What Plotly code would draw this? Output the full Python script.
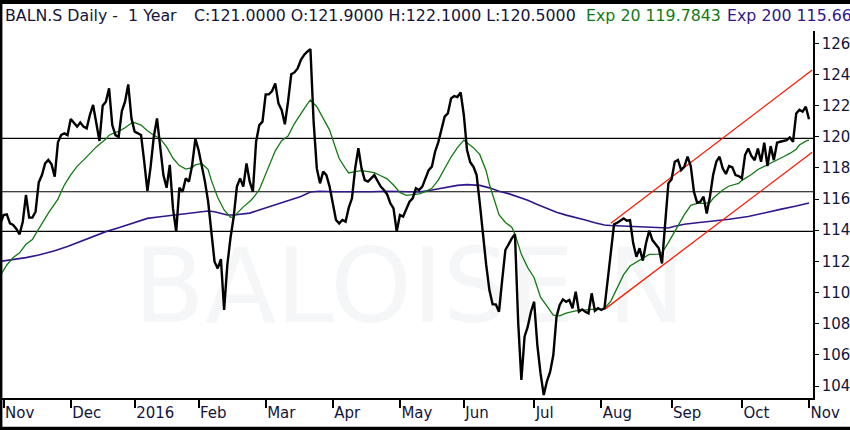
import pandas as pd
import plotly.graph_objects as go

# SIX exchange holidays in the window (no trading, removed from the axis)
holidays = ["2015-12-24", "2015-12-25", "2015-12-31", "2016-01-01", "2016-03-25",
            "2016-03-28", "2016-05-05", "2016-05-16", "2016-08-01"]

days = pd.bdate_range("2015-10-30", "2016-11-02")
days = days[~days.isin(pd.to_datetime(holidays))]

# daily close, one value per trading day starting 2015-10-30
close = [
    114.44, 114.98, 115.02, 114.44, 114.34, 114.08, 113.74, 114.55, 116.26, 114.81,
    114.81, 115.19, 117.07, 117.54, 118.29, 118.51, 118.23, 117.44, 119.64, 120.11,
    120.22, 120.11, 121.14, 120.92, 120.65, 120.92, 120.65, 120.54, 121.40, 122.04,
    120.92, 119.73, 122.00, 122.25, 123.11, 120.75, 120.11, 120.00, 121.65, 122.25,
    123.36, 121.18, 120.33, 120.20, 120.11, 118.40, 116.52, 118.08, 120.00, 121.18,
    119.47, 117.54, 116.73, 118.19, 115.40, 113.91, 116.73, 116.47, 117.33, 117.12,
    118.19, 119.86, 119.15, 118.19, 117.12, 115.83, 113.91, 111.98, 111.55, 112.15,
    108.88, 111.77, 113.52, 114.87, 116.80, 117.33, 116.80, 118.29, 117.12, 116.47,
    119.68, 120.75, 120.97, 122.72, 122.72, 122.94, 123.43, 122.14, 121.72, 120.80,
    122.25, 124.01, 124.13, 124.39, 124.93, 125.25, 125.46, 125.63, 120.97, 117.97,
    117.01, 117.76, 117.54, 116.80, 115.73, 114.66, 114.44, 114.66, 114.55, 115.45,
    116.05, 117.97, 119.26, 117.97, 117.22, 117.12, 117.33, 117.54, 117.16, 116.80,
    116.58, 116.30, 115.73, 115.40, 113.91, 114.98, 114.87, 115.36, 115.83, 116.05,
    116.69, 116.58, 116.80, 117.33, 117.86, 118.08, 119.04, 119.64, 120.54, 121.29,
    121.50, 122.46, 122.61, 122.55, 122.85, 121.40, 119.15, 118.36, 118.08, 117.54,
    115.73, 113.69, 111.77, 110.16, 109.24, 109.24, 108.77, 110.80, 112.73, 113.09,
    113.48, 113.74, 108.13, 104.39, 107.17, 107.81, 108.77, 109.41, 106.63, 104.81,
    103.42, 104.30, 104.90, 105.99, 108.45, 109.20, 109.56, 109.41, 109.52, 108.99,
    110.06, 108.77, 108.92, 108.77, 108.66, 109.95, 108.83, 108.99, 108.88, 108.99,
    110.80, 112.51, 114.38, 114.48, 114.61, 114.76, 114.61, 114.65, 113.16, 112.30,
    112.84, 112.05, 113.16, 113.97, 113.37, 113.11, 112.84, 111.87, 114.55, 117.01,
    117.27, 118.40, 118.51, 117.86, 118.08, 118.72, 118.12, 116.47, 115.77, 115.83,
    116.15, 115.08, 116.15, 117.54, 118.40, 118.72, 117.97, 117.61, 118.12, 118.04,
    117.54, 117.48, 117.33, 118.83, 119.25, 118.76, 118.50, 119.25, 118.40, 119.62,
    118.12, 119.40, 118.50, 119.62, 119.68, 119.75, 119.79, 119.96, 119.68, 121.50,
    121.73, 121.61, 121.93, 121.12,
]

# Exp 20 moving average, read at trading-day positions
ema20_day = [0, 2, 4, 6, 8, 10, 11, 13, 15, 18, 20, 22, 24, 26, 28, 30, 33, 34, 36, 37,
             39, 41, 42, 44, 46, 48, 50, 52, 54, 56, 58, 60, 61, 63, 65, 66, 68, 70, 72, 73,
             74, 76, 78, 79, 81, 83, 84, 86, 88, 90, 92, 94, 96, 97, 99, 101, 103, 105, 106, 108,
             109, 111, 113, 115, 117, 119, 121, 123, 125, 127, 129, 131, 133, 135, 137, 139, 141, 143, 145, 146,
             148, 150, 152, 153, 155, 156, 158, 160, 161, 163, 165, 167, 169, 171, 172, 173, 175, 177, 180, 182,
             185, 188, 189, 191, 193, 195, 197, 199, 201, 203, 206, 207, 209, 211, 213, 214, 216, 218, 220, 222,
             223, 225, 226, 228, 231, 232, 235, 237, 239, 241, 243, 245, 247, 249, 250, 252, 253]
ema20_val = [111.10, 111.77, 112.25, 112.55, 113.10, 113.40, 113.75, 114.45, 115.10, 116.00,
             116.90, 117.55, 118.10, 118.50, 118.93, 119.35, 119.85, 120.10, 120.28, 120.35,
             120.58, 120.88, 120.90, 120.75, 120.38, 120.10, 119.88, 119.35, 118.62, 118.15,
             117.93, 118.02, 118.19, 118.29, 117.90, 117.20, 116.10, 115.30, 114.83, 114.85,
             115.08, 115.50, 115.85, 116.05, 116.60, 117.60, 118.20, 119.10, 119.75, 120.05,
             120.85, 121.50, 122.10, 122.36, 121.93, 121.18, 120.43, 119.20, 118.60, 117.95,
             117.68, 117.76, 117.82, 117.76, 117.70, 117.50, 117.30, 116.90, 116.43, 116.24,
             116.27, 116.33, 116.48, 116.69, 117.22, 117.97, 118.70, 119.30, 119.78, 119.62,
             119.30, 118.85, 117.80, 116.95, 115.70, 115.00, 114.50, 114.20, 113.75, 112.45,
             111.60, 110.95, 109.70, 109.10, 108.88, 108.55, 108.50, 108.68, 108.83, 108.88,
             108.92, 108.93, 108.99, 109.45, 110.30, 111.15, 111.70, 111.95, 112.25, 112.45,
             112.47, 112.55, 113.20, 113.90, 114.60, 115.00, 115.60, 115.72, 115.72, 115.77,
             116.05, 116.40, 116.58, 116.84, 117.01, 117.20, 117.58, 117.90, 118.10, 118.27,
             118.50, 118.72, 118.93, 119.20, 119.47, 119.72, 119.78]

# Exp 200 moving average
ema200_day = [0, 4, 8, 12, 17, 21, 25, 29, 33, 37, 42, 46, 50, 55, 59, 63, 65, 67, 69, 71,
              73, 76, 78, 80, 82, 84, 87, 91, 94, 97, 100, 105, 110, 116, 121, 126, 131, 135, 139, 143,
              146, 150, 153, 156, 159, 162, 165, 168, 171, 174, 177, 180, 183, 186, 189, 191, 195, 198, 201, 204,
              207, 209, 211, 214, 218, 223, 228, 234, 239, 244, 249, 253]
ema200_val = [112.00, 112.11, 112.24, 112.41, 112.68, 112.95, 113.27, 113.59, 113.91, 114.16,
              114.52, 114.76, 114.87, 114.98, 115.08, 115.19, 115.23, 115.19, 115.08, 114.98,
              114.98, 115.03, 115.10, 115.23, 115.36, 115.48, 115.72, 115.95, 116.17, 116.45,
              116.50, 116.47, 116.45, 116.47, 116.50, 116.47, 116.45, 116.58, 116.73, 116.88,
              116.93, 116.88, 116.72, 116.50, 116.35, 116.14, 115.93, 115.65, 115.40, 115.15,
              114.97, 114.83, 114.66, 114.48, 114.34, 114.30, 114.27, 114.23, 114.18, 114.18,
              114.15, 114.14, 114.25, 114.38, 114.48, 114.57, 114.70, 114.88, 115.12, 115.34,
              115.55, 115.75]

# trend channel (start day, end day, start value, end value)
upper_day = [191, 254]
upper_val = [114.45, 124.28]
lower_day = [189, 254]
lower_val = [108.92, 119.00]

# horizontal support / resistance levels
levels = [119.9, 116.47, 113.93]

tick_dates = ["2015-11-02", "2015-12-01", "2016-01-04", "2016-02-01", "2016-03-01", "2016-04-01",
              "2016-05-02", "2016-06-01", "2016-07-01", "2016-08-02", "2016-09-01", "2016-10-03",
              "2016-11-01"]
tick_text = ["Nov", "Dec", "2016", "Feb", "Mar", "Apr", "May", "Jun", "Jul", "Aug", "Sep", "Oct", "Nov"]

NAVY = "#14143c"
GREEN = "#137a13"
PURPLE = "#32168c"
FONT = "DejaVu Sans"

fig = go.Figure()

# faint watermark, kept under the lines
fig.add_trace(go.Scatter(
    x=[days[128]], y=[109.8], mode="text", text=["BALOISE N"],
    textfont=dict(family=FONT, size=104, color="#f5f6f7"),
    hoverinfo="skip", showlegend=False,
))

fig.add_trace(go.Scatter(x=days[ema200_day], y=ema200_val, mode="lines",
                         line=dict(color=PURPLE, width=1.6), showlegend=False))
fig.add_trace(go.Scatter(x=days[ema20_day], y=ema20_val, mode="lines",
                         line=dict(color=GREEN, width=1.3), showlegend=False))
fig.add_trace(go.Scatter(x=days[upper_day], y=upper_val, mode="lines",
                         line=dict(color="#ff1a00", width=1.3), showlegend=False))
fig.add_trace(go.Scatter(x=days[lower_day], y=lower_val, mode="lines",
                         line=dict(color="#ff1a00", width=1.3), showlegend=False))
fig.add_trace(go.Scatter(x=days[:len(close)], y=close, mode="lines",
                         line=dict(color="black", width=2.4), showlegend=False))

for lv in levels:
    fig.add_shape(type="line", xref="paper", x0=0, x1=1, yref="y", y0=lv, y1=lv,
                  line=dict(color="black", width=1.2), layer="below")

# black frame round the picture
frame = dict(type="rect", xref="paper", yref="paper", fillcolor="black", line=dict(width=0))
fig.add_shape(**frame, x0=-0.003, x1=0.0005, y0=-0.09, y1=1.09)
fig.add_shape(**frame, x0=-0.003, x1=1.05, y0=1.0736, y1=1.09)
fig.add_shape(**frame, x0=-0.003, x1=1.05, y0=-0.09, y1=-0.0785)

header = [
    ("BALN.S Daily -\u00a0\u00a01 Year", 3, NAVY),
    ("C:121.0000 O:121.9000 H:122.1000 L:120.5000", 192, NAVY),
    ("Exp 20 119.7843", 584, GREEN),
    ("Exp 200 115.6634", 725, PURPLE),
]
for txt, px, col in header:
    fig.add_annotation(text=txt, xref="paper", yref="paper", x=(px - 2) / 811, y=1.041,
                       xanchor="left", yanchor="middle", showarrow=False,
                       font=dict(family=FONT, size=15.8, color=col))

fig.update_layout(
    width=850, height=430,
    margin=dict(l=2, r=37, t=31, b=32, autoexpand=False),
    paper_bgcolor="white", plot_bgcolor="white",
    font=dict(family=FONT, size=15, color=NAVY),
    xaxis=dict(
        type="date",
        range=["2015-10-30 12:00", "2016-11-02 06:00"],
        rangebreaks=[dict(bounds=["sat", "mon"]), dict(values=holidays)],
        tickmode="array", tickvals=tick_dates, ticktext=tick_text,
        ticks="outside", ticklen=8, tickwidth=1.5, tickcolor="black",
        ticklabelposition="outside right",
        showline=True, linecolor="black", linewidth=1.5,
        showgrid=False, zeroline=False, automargin=False,
    ),
    yaxis=dict(
        side="right", range=[103.23, 126.79],
        tickmode="array", tickvals=list(range(104, 127, 2)),
        ticks="outside", ticklen=4, tickcolor="black",
        showline=True, linecolor="black", linewidth=1.5,
        showgrid=False, zeroline=False, automargin=False,
    ),
)

# the page's default 8px body margin would shift the chart
fig.write_html("out.html", config={"displayModeBar": False},
               post_script="document.body.style.margin='0px';")
